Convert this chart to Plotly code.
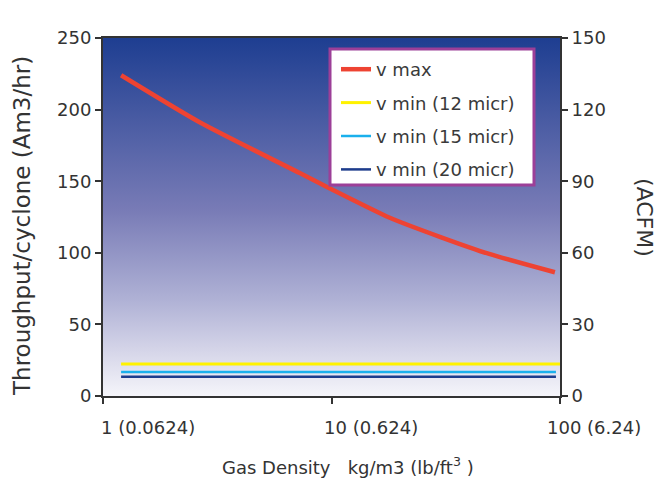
import plotly.graph_objects as go
import numpy as np
import base64

# ---- data ----
density_vmax = [1.2, 2.66, 7.3, 9.7, 18, 30, 49, 95]
v_max = [224, 191, 155.5, 145.5, 124.5, 111, 99.2, 86.4]

density_min = [1.2, 100]
density_min_short = [1.2, 96]
v_min_12 = [22.3, 22.3]
v_min_15 = [16.7, 16.7]
v_min_20 = [13.4, 13.4]

x_tickvals = [1, 10, 100]
x_ticklabels = ["1 (0.0624)", "10 (0.624)", "100 (6.24)"]
y_tickvals = [0, 50, 100, 150, 200, 250]
y2_tickvals = [0, 30, 60, 90, 120, 150]

FONT = "DejaVu Sans"
TXT = "#333333"

fig = go.Figure()
fig.add_trace(go.Scatter(x=density_vmax, y=v_max, mode="lines", name="v max",
                         line=dict(color="#ee4332", width=4.5, shape="spline", smoothing=0.6),
                         legendgroup="a"))
fig.add_trace(go.Scatter(x=density_min, y=v_min_12, mode="lines", name="v min (12 micr)",
                         line=dict(color="#fff200", width=3), legendgroup="b"))
fig.add_trace(go.Scatter(x=density_min_short, y=v_min_15, mode="lines", name="v min (15 micr)",
                         line=dict(color="#1ab0ec", width=2.5), legendgroup="c"))
fig.add_trace(go.Scatter(x=density_min_short, y=v_min_20, mode="lines", name="v min (20 micr)",
                         line=dict(color="#1d3c8c", width=2.5), legendgroup="d"))
# empty trace so the secondary axis is drawn
fig.add_trace(go.Scatter(x=[], y=[], yaxis="y2", showlegend=False, hoverinfo="skip"))

# gradient background as an SVG image
svg = ('<svg xmlns="http://www.w3.org/2000/svg" width="100" height="100" preserveAspectRatio="none">'
       '<defs><linearGradient id="g" x1="0" y1="0" x2="0" y2="1">'
       '<stop offset="0" stop-color="rgb(30,62,145)"/>'
       '<stop offset="0.48" stop-color="rgb(120,123,182)"/>'
       '<stop offset="0.73" stop-color="rgb(175,177,213)"/>'
       '<stop offset="0.87" stop-color="rgb(212,212,232)"/>'
       '<stop offset="1" stop-color="rgb(245,245,250)"/>'
       '</linearGradient></defs><rect width="100" height="100" fill="url(#g)"/></svg>')
bg_src = "data:image/svg+xml;base64," + base64.b64encode(svg.encode()).decode()

shapes = [dict(type="rect", xref="paper", yref="paper",
               x0=(330 - 103) / 457, x1=(534 - 103) / 457,
               y0=(396 - 185) / 358, y1=(396 - 49) / 358,
               fillcolor="white", line=dict(color="#9c3f98", width=3), layer="above")]

annotations = []
xshifts = [-4, -10, -15]
for v, t, s in zip(x_tickvals, x_ticklabels, xshifts):
    annotations.append(dict(x=np.log10(v), y=0, xref="x", yref="paper", text=t,
                            showarrow=False, xanchor="left", yanchor="middle",
                            yshift=-31, xshift=s, font=dict(family=FONT, size=18, color=TXT)))
annotations.append(dict(x=(348 - 103) / 457, y=(396 - 466) / 358, xref="paper", yref="paper",
                        text="Gas Density   kg/m3 (lb/ft<sup>3</sup> )", showarrow=False,
                        xanchor="center", yanchor="middle",
                        font=dict(family=FONT, size=18, color=TXT)))
annotations.append(dict(x=(22 - 103) / 457, y=(396 - 398) / 358, xref="paper", yref="paper",
                        text="Throughput/cyclone (Am3/hr)", showarrow=False, textangle=-90,
                        xanchor="center", yanchor="bottom",
                        font=dict(family=FONT, size=23, color=TXT)))
annotations.append(dict(x=(645 - 103) / 457, y=0.5, xref="paper", yref="paper",
                        text="(ACFM)", showarrow=False, textangle=90,
                        xanchor="center", yanchor="middle",
                        font=dict(family=FONT, size=22, color=TXT)))

fig.update_layout(
    width=668, height=481,
    margin=dict(l=103, r=108, t=38, b=85),
    paper_bgcolor="white", plot_bgcolor="rgba(0,0,0,0)",
    font=dict(family=FONT, size=18, color=TXT),
    images=[dict(source=bg_src, xref="x domain", yref="y domain", x=0, y=1,
                 sizex=1, sizey=1, xanchor="left", yanchor="top",
                 sizing="stretch", layer="below")],
    xaxis=dict(type="log", range=[0, 2], tickvals=x_tickvals, showticklabels=False,
               ticks="outside", ticklen=6, tickwidth=2, tickcolor="#333",
               showline=True, linewidth=2, linecolor="#333", mirror=True,
               showgrid=False, zeroline=False),
    yaxis=dict(range=[0, 250], tickvals=y_tickvals, ticks="outside", ticklen=6,
               tickwidth=2, tickcolor="#333", showline=True, linewidth=2, linecolor="#333",
               showgrid=False, zeroline=False, tickfont=dict(size=18, color=TXT)),
    yaxis2=dict(range=[0, 150], tickvals=y2_tickvals, overlaying="y", side="right",
                ticks="outside", ticklen=6, tickwidth=2, tickcolor="#333",
                showline=True, linewidth=2, linecolor="#333",
                showgrid=False, zeroline=False, tickfont=dict(size=18, color=TXT)),
    showlegend=True,
    legend=dict(x=(336 - 103) / 457, y=(396 - 51) / 358, xanchor="left", yanchor="top",
                bgcolor="rgba(0,0,0,0)", borderwidth=0, traceorder="grouped",
                tracegroupgap=7, font=dict(family=FONT, size=18, color="#3a3a3a")),
    shapes=shapes,
    annotations=annotations,
)

fig.write_html("out.html", config={"displayModeBar": False},
               post_script="document.body.style.margin='0';document.body.style.padding='0';")
